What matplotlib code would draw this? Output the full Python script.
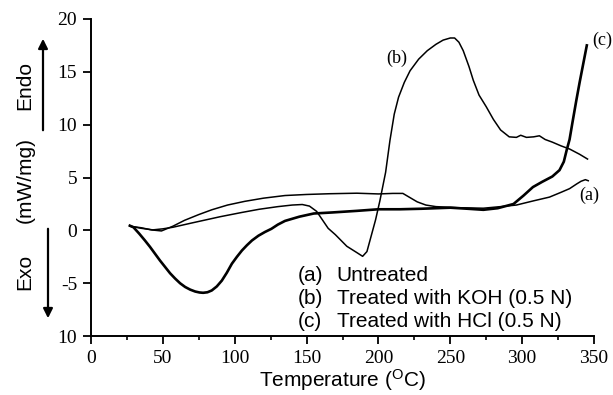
import matplotlib

matplotlib.use("Agg")
import matplotlib.pyplot as plt

plt.rcParams.update({
    "font.family": "Liberation Sans",
    "mathtext.fontset": "custom",
    "mathtext.rm": "Liberation Sans",
    "mathtext.it": "Liberation Sans",
})

# (a) Untreated
temp_a = [27, 35, 42, 49, 57, 65, 75, 84, 95, 107, 120, 135, 150, 166, 185, 200,
          210, 217, 222, 227, 233, 240, 255, 273, 285, 296, 308, 319, 327, 333,
          338, 341, 344, 346]
heat_a = [0.4, 0.25, 0.05, -0.05, 0.4, 0.95, 1.5, 1.95, 2.4, 2.75, 3.05, 3.3, 3.4,
          3.47, 3.52, 3.45, 3.5, 3.5, 3.1, 2.7, 2.4, 2.25, 2.15, 2.1, 2.25, 2.4,
          2.8, 3.15, 3.6, 3.95, 4.4, 4.65, 4.8, 4.7]

# (b) KOH treated
temp_b = [27, 35, 43, 50, 57, 70, 90, 105, 117, 130, 140, 147, 152, 157, 161,
          165, 170, 178, 185, 189, 192, 195, 198, 201, 205, 208, 211, 214, 218,
          222, 228, 234, 240, 245, 250, 253, 256, 259, 263, 266, 270, 275, 280,
          285, 291, 296, 299, 303, 308, 312, 316, 321, 327, 333, 340, 345.5]
heat_b = [0.4, 0.2, 0.05, 0.15, 0.3, 0.7, 1.3, 1.7, 2.0, 2.25, 2.4, 2.45, 2.3,
          1.8, 1.0, 0.2, -0.4, -1.5, -2.1, -2.45, -2.0, -0.5, 1.0, 2.8, 5.5,
          8.5, 11.0, 12.6, 14.0, 15.1, 16.2, 17.0, 17.6, 18.0, 18.2, 18.2, 17.8,
          17.0, 15.5, 14.2, 12.8, 11.7, 10.5, 9.5, 8.85, 8.8, 9.0, 8.8, 8.85,
          8.95, 8.6, 8.35, 8.0, 7.7, 7.2, 6.75]

# (c) HCl treated
temp_c = [27, 29.5, 33.5, 37.5, 41, 44.5, 48, 51.5, 55, 58.5, 62, 65.5, 69,
          72.5, 75.5, 78, 81, 84, 87.5, 91, 94.5, 98, 101.5, 105, 108.5, 112,
          116.5, 121, 125.5, 130, 135, 145, 155, 168, 185, 200, 215, 230, 250,
          262, 273, 283, 294, 301, 307.5, 314, 321, 326, 329, 331, 333, 335,
          337.7, 340, 342, 344, 345]
heat_c = [0.45, 0.3, -0.3, -0.95, -1.55, -2.2, -2.85, -3.45, -4.05, -4.55,
          -5.0, -5.35, -5.6, -5.78, -5.87, -5.9, -5.85, -5.68, -5.3, -4.75,
          -4.0, -3.15, -2.5, -1.9, -1.4, -0.95, -0.5, -0.15, 0.15, 0.55, 0.9,
          1.3, 1.6, 1.7, 1.85, 2.0, 2.0, 2.05, 2.15, 2.05, 1.95, 2.1, 2.5, 3.3,
          4.1, 4.6, 5.1, 5.7, 6.5, 7.6, 8.6, 10.2, 12.3, 14.0, 15.4, 16.8, 17.5]

legend_keys = ["(a)", "(b)", "(c)"]
legend_text = ["Untreated", "Treated with KOH (0.5 N)", "Treated with HCl (0.5 N)"]

fig = plt.figure(figsize=(6.13, 3.95), dpi=100)
ax = fig.add_axes([0.1485, 0.149, 0.8205, 0.803])

ax.plot(temp_a, heat_a, color="black", linewidth=1.1)
ax.plot(temp_b, heat_b, color="black", linewidth=1.1)
ax.plot(temp_c, heat_c, color="black", linewidth=1.9, solid_joinstyle="round")

ax.set_xlim(0, 350)
ax.set_ylim(-10, 20)
ax.set_xticks(range(0, 351, 50))
ax.set_xticks(range(25, 350, 50), minor=True)
ax.set_yticks(range(-10, 21, 5))
ax.set_yticklabels(["10", "-5", "0", "5", "10", "15", "20"])
ax.spines["top"].set_visible(False)
ax.spines["right"].set_visible(False)
ax.spines["left"].set_linewidth(1.4)
ax.spines["bottom"].set_linewidth(1.4)
ax.tick_params(which="major", direction="out", length=6, width=1.3, pad=4)
ax.tick_params(which="minor", direction="out", length=3, width=1.2)
for lbl in ax.get_xticklabels() + ax.get_yticklabels():
    lbl.set_fontfamily("Liberation Serif")
    lbl.set_fontsize(14)

ax.set_xlabel(r"Temperature ($^{\mathrm{O}}$C)", fontsize=15, labelpad=0)

# curve labels
ax.text(213, 16.3, "(b)", family="Liberation Serif", fontsize=13, ha="center", va="center")
ax.text(356, 18.0, "(c)", family="Liberation Serif", fontsize=13, ha="center", va="center")
ax.text(347, 3.3, "(a)", family="Liberation Serif", fontsize=13, ha="center", va="center")

# legend block
for i, (k, t) in enumerate(zip(legend_keys, legend_text)):
    yy = -4.3 - 2.15 * i
    ax.text(144, yy, k, fontsize=15, va="center", ha="left")
    ax.text(171, yy, t, fontsize=15, va="center", ha="left")

# y label with Endo / Exo arrows
fig.text(0.041, 1 - 86 / 395, "Endo", rotation=90, fontsize=15, ha="center", va="center")
fig.text(0.041, 1 - 180 / 395, "(mW/mg)", rotation=90, fontsize=15, ha="center", va="center")
fig.text(0.041, 1 - 272 / 395, "Exo", rotation=90, fontsize=15, ha="center", va="center")
fig.add_artist(matplotlib.patches.FancyArrowPatch(
    (43 / 613, 1 - 133 / 395), (43 / 613, 1 - 36 / 395), transform=fig.transFigure,
    arrowstyle="-|>", mutation_scale=14, linewidth=1.6, color="black"))
fig.add_artist(matplotlib.patches.FancyArrowPatch(
    (48 / 613, 1 - 226 / 395), (48 / 613, 1 - 321 / 395), transform=fig.transFigure,
    arrowstyle="-|>", mutation_scale=14, linewidth=1.6, color="black"))

fig.savefig("out.png", dpi=100)
